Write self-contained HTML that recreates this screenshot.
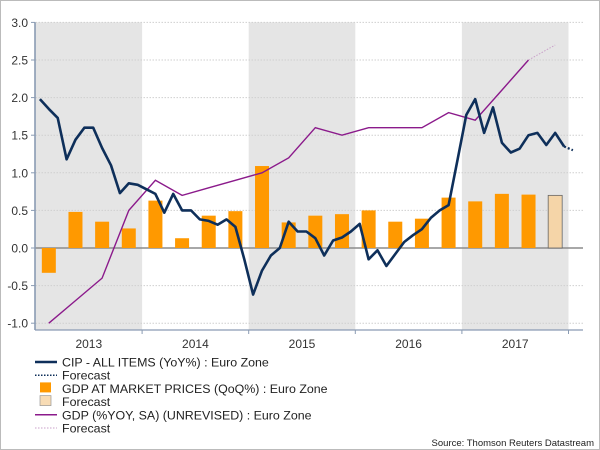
<!DOCTYPE html>
<html><head><meta charset="utf-8"><style>
html,body{margin:0;padding:0;background:#fff}
svg{display:block;font-family:"Liberation Sans",Arial,sans-serif}
</style></head><body>
<svg id="chart" width="600" height="450" viewBox="0 0 600 450" xmlns="http://www.w3.org/2000/svg">
<rect x="0.5" y="0.5" width="599" height="449" fill="#fff" stroke="#bbb"/>
<g id="bands"></g><g id="grid"></g><g id="bars"></g><g id="lines"></g><g id="axes"></g><g id="legend"></g>
</svg>
<script>
const years = [2013, 2014, 2015, 2016, 2017];
const yTicks = [3.0, 2.5, 2.0, 1.5, 1.0, 0.5, 0.0, -0.5, -1.0];
const gdpQoQ = [-0.33,0.48,0.35,0.26, 0.63,0.13,0.43,0.49, 1.09,0.34,0.43,0.45, 0.50,0.35,0.39,0.67, 0.62,0.72,0.71];
const gdpQoQForecast = [0.70];
const gdpYoY = [-1.0,-0.7,-0.4,0.5, 0.9,0.7,0.8,0.9, 1.0,1.2,1.6,1.5, 1.6,1.6,1.6,1.8, 1.7,2.1,2.5];
const gdpYoYForecast = [2.7];
const cpi = [1.98,1.85,1.73,1.18,1.44,1.6,1.6,1.33,1.1,0.73,0.86,0.84,
 0.78,0.72,0.47,0.72,0.5,0.5,0.38,0.36,0.31,0.38,0.28,-0.15,
 -0.62,-0.3,-0.1,0.0,0.35,0.22,0.22,0.13,-0.1,0.1,0.14,0.22,
 0.32,-0.15,-0.03,-0.24,-0.08,0.08,0.17,0.25,0.4,0.5,0.57,1.17,
 1.77,1.98,1.53,1.87,1.4,1.27,1.32,1.5,1.53,1.37,1.53,1.35];
const cpiForecast = [1.3];

const NS="http://www.w3.org/2000/svg";
const L=35.5, R=583, T=22.3, B=330, yr=106.6;
const xT=t=>L+(t-2013)*yr;
const yV=v=>248-v*75.2;
function el(tag,attrs,parent){const e=document.createElementNS(NS,tag);for(const k in attrs)e.setAttribute(k,attrs[k]);parent.appendChild(e);return e;}
const g=id=>document.getElementById(id);

years.forEach((y,i)=>{ if(i%2===0){
  const r=el('rect',{x:xT(y),y:T,width:yr,height:B-T,fill:'#e5e5e5'},g('bands'));
  
  
}});
yTicks.forEach(v=>{
  const ln=el('line',{x1:L,x2:R,y1:yV(v),y2:yV(v),stroke:v===0?'#8c8c8c':'#cfcfcf','stroke-width':v===0?1.6:1,'stroke-dasharray':v===0?'':'1.5,1.5'},g('grid'));
  
  
  const t=el('text',{x:28,y:yV(v)+4.5,'text-anchor':'end','font-size':12,fill:'#333'},g('axes'));
  t.textContent=v.toFixed(1);
  
  
  el('line',{x1:31,x2:35,y1:yV(v),y2:yV(v),stroke:'#8a9bb3','stroke-width':1},g('axes'));
});
const qx=i=>xT(2013+(i+0.5)/4);
gdpQoQ.forEach((v,i)=>{
  const b=el('rect',{x:qx(i)-7,y:Math.min(yV(v),yV(0)),width:14,height:Math.abs(yV(v)-yV(0)),fill:'#ff9900'},g('bars'));
  
  
});
gdpQoQForecast.forEach((v,i)=>{
  const j=gdpQoQ.length+i;
  const b=el('rect',{x:qx(j)-7,y:yV(v),width:14,height:yV(0)-yV(v),fill:'#f5d5a8',stroke:'#666','stroke-width':0.8},g('bars'));
  
  
});
const pp=gdpYoY.map((v,i)=>qx(i).toFixed(1)+','+yV(v).toFixed(1));
const pl=el('polyline',{points:pp.join(' '),fill:'none',stroke:'#8b1a8b','stroke-width':1.4},g('lines'));


const pf=[pp[pp.length-1]].concat(gdpYoYForecast.map((v,i)=>qx(gdpYoY.length+i).toFixed(1)+','+yV(v).toFixed(1)));
const pfl=el('polyline',{points:pf.join(' '),fill:'none',stroke:'#c9a0c9','stroke-width':1,'stroke-dasharray':'1.5,1.5'},g('lines'));


const mx=i=>xT(2013+(i+0.5)/12);
const cp=cpi.map((v,i)=>mx(i).toFixed(1)+','+yV(v).toFixed(1));
const cl=el('polyline',{points:cp.join(' '),fill:'none',stroke:'#0e2f5a','stroke-width':2.6,'stroke-linejoin':'round'},g('lines'));


const cf=[cp[cp.length-1]].concat(cpiForecast.map((v,i)=>mx(cpi.length+i).toFixed(1)+','+yV(v).toFixed(1)));
const cfl=el('polyline',{points:cf.join(' '),fill:'none',stroke:'#0e2f5a','stroke-width':2.2,'stroke-dasharray':'2,2'},g('lines'));


el('line',{x1:35,x2:35,y1:T,y2:B,stroke:'#8a9bb3','stroke-width':1.6},g('axes'));
el('line',{x1:35,x2:R,y1:B,y2:B,stroke:'#8a9bb3','stroke-width':1.2},g('axes'));
years.forEach(y=>{
  el('line',{x1:xT(y+1),x2:xT(y+1),y1:B,y2:B+4,stroke:'#8a9bb3'},g('axes'));
  const t=el('text',{x:xT(y+0.5),y:348,'text-anchor':'middle','font-size':12,fill:'#333'},g('axes'));
  t.textContent=y;
  
  
});
const leg=[
 ['CIP - ALL ITEMS (YoY%) : Euro Zone','line','#0e2f5a',2.5,''],
 ['Forecast','line','#0e2f5a',1.5,'1.5,1.5'],
 ['GDP AT MARKET PRICES (QoQ%) : Euro Zone','box','#ff9900'],
 ['Forecast','box','#f8dcb5'],
 ['GDP (%YOY, SA) (UNREVISED) : Euro Zone','line','#8b1a8b',1.5,''],
 ['Forecast','line','#c9a0c9',1,'1.5,1.5']];
leg.forEach((d,i)=>{
  const y=362+i*13.2;
  if(d[1]==='line') el('line',{x1:35,x2:57,y1:y,y2:y,stroke:d[2],'stroke-width':d[3],'stroke-dasharray':d[4]},g('legend'));
  else el('rect',{x:40,y:y-6,width:11,height:10,fill:d[2],stroke:i===3?'#999':'none','stroke-width':0.7},g('legend'));
  const t=el('text',{x:62,y:y+4.5,'font-size':12.4,fill:'#222'},g('legend'));
  t.textContent=d[0];
  
  
});
const s=el('text',{x:594,y:446,'text-anchor':'end','font-size':9.5,fill:'#222'},g('legend'));
s.textContent='Source: Thomson Reuters Datastream';


</script>
</body></html>
